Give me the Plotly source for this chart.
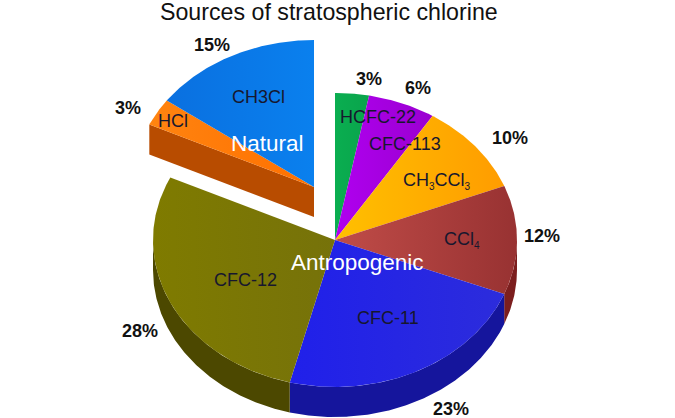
import numpy as np
import plotly.graph_objects as go

# ---- data (clockwise from 12 o'clock) ----
sources = ["HCFC-22", "CFC-113", "CH3CCl3", "CCl4", "CFC-11", "CFC-12", "HCl", "CH3Cl"]
shares = [3, 6, 10, 12, 23, 28, 3, 15]
SUB = '<sub><span style="font-size:10px">%s</span></sub>'
slice_labels = ["HCFC-22", "CFC-113", "CH" + SUB % "3" + "CCl" + SUB % "3", "CCl" + SUB % "4",
                "CFC-11", "CFC-12", "HCl", "CH3Cl"]
groups = ["Antropogenic"] * 6 + ["Natural"] * 2
title_text = "Sources of stratospheric chlorine"

# ---- styling / geometry (pixels of the 675x418 page) ----
top_colors = [("#0aae50", "#0aa44c"), ("#b000f0", "#9a00d0"), ("#ffc000", "#ff9c00"),
              ("#c04c48", "#983232"), ("#2020ea", "#2c2cdc"), ("#7f7b00", "#76720a"),
              ("#ff8410", "#ff7000"), ("#0a70e0", "#0a80ee")]
wall_colors = [None, None, None, "#7c1e1e", "#15159c", "#4c4800", "#b84c00", "#b84c00"]
CENTER = {"Antropogenic": (335, 240), "Natural": (314, 187)}
RX, RY, DEPTH = 182, 147, 30
TEXT = "#17172e"


def rim(cx, cy, a0, a1, dy=0.0):
    t = np.radians(np.linspace(a0, a1, max(int(abs(a1 - a0)) * 2 + 2, 3)))
    return cx + RX * np.sin(t), cy - RY * np.cos(t) + dy


fig = go.Figure()


def poly(xs, ys, c0, c1=None):
    kw = dict(fillcolor=c0) if c1 is None else dict(
        fillgradient=dict(type="horizontal", colorscale=[[0, c0], [1, c1]]))
    fig.add_trace(go.Scatter(x=xs, y=ys, mode="lines", fill="toself", line=dict(width=0),
                             hoverinfo="skip", showlegend=False, **kw))


edges = np.cumsum([0] + shares) * 3.6
walls, tops = [], []
for i, (name, grp) in enumerate(zip(sources, groups)):
    cx, cy = CENTER[grp]
    a0, a1 = edges[i], edges[i + 1]
    tops.append((cx, cy, a0, a1, i))
    if wall_colors[i] is None:
        continue
    if grp == "Natural":
        if name == "HCl":  # flat cut face of the pulled-out wedge
            xe, ye = rim(cx, cy, a0, a0, 0)
            walls.append(([xe[0], cx, cx, xe[0]], [ye[0], cy, cy + DEPTH, ye[0] + DEPTH], i))
        continue
    lo, hi = max(a0, 90), min(a1, 270)
    if lo < hi:
        xa, ya = rim(cx, cy, lo, hi)
        xb, yb = rim(cx, cy, hi, lo, DEPTH)
        walls.append((np.r_[xa, xb], np.r_[ya, yb], i))

for xs, ys, i in walls:
    poly(list(xs), list(ys), wall_colors[i])
for cx, cy, a0, a1, i in tops:
    xa, ya = rim(cx, cy, a0, a1)
    poly([cx, *xa, cx], [cy, *ya, cy], *top_colors[i])

# ---- texts ----
pct_pos = [(369, 79), (418, 88), (510, 138), (542, 236), (451, 409), (140, 331), (128, 108), (212, 45)]
lab_pos = [(378, 117), (405, 144), (437, 181), (462, 240), (388, 318), (245, 280), (173, 121), (258, 97)]
anns = []
for s, lab, (px, py), (lx, ly) in zip(shares, slice_labels, pct_pos, lab_pos):
    anns.append(dict(x=px, y=py, text=f"<b>{s}%</b>", font=dict(size=18, color="#111111")))
    anns.append(dict(x=lx, y=ly, text=lab, font=dict(size=18, color=TEXT)))
anns.append(dict(x=267, y=143, text="Natural", font=dict(size=22.5, color="white")))
anns.append(dict(x=357, y=262, text="Antropogenic", font=dict(size=22.5, color="white")))
anns.append(dict(x=329, y=12, text=title_text, font=dict(size=23.2, color="#111111")))

fig.update_layout(
    width=675, height=418, margin=dict(l=0, r=0, t=0, b=0),
    paper_bgcolor="white", plot_bgcolor="white",
    font=dict(family="Liberation Sans, Arial, sans-serif"),
    xaxis=dict(range=[0, 675], visible=False, fixedrange=True),
    yaxis=dict(range=[418, 0], visible=False, fixedrange=True),
    annotations=[dict(a, showarrow=False, xref="x", yref="y", xanchor="center", yanchor="middle")
                 for a in anns],
)
fig.write_html("out.html", config={"displayModeBar": False},
               post_script="document.body.style.margin='0';document.documentElement.style.overflow='hidden';")
